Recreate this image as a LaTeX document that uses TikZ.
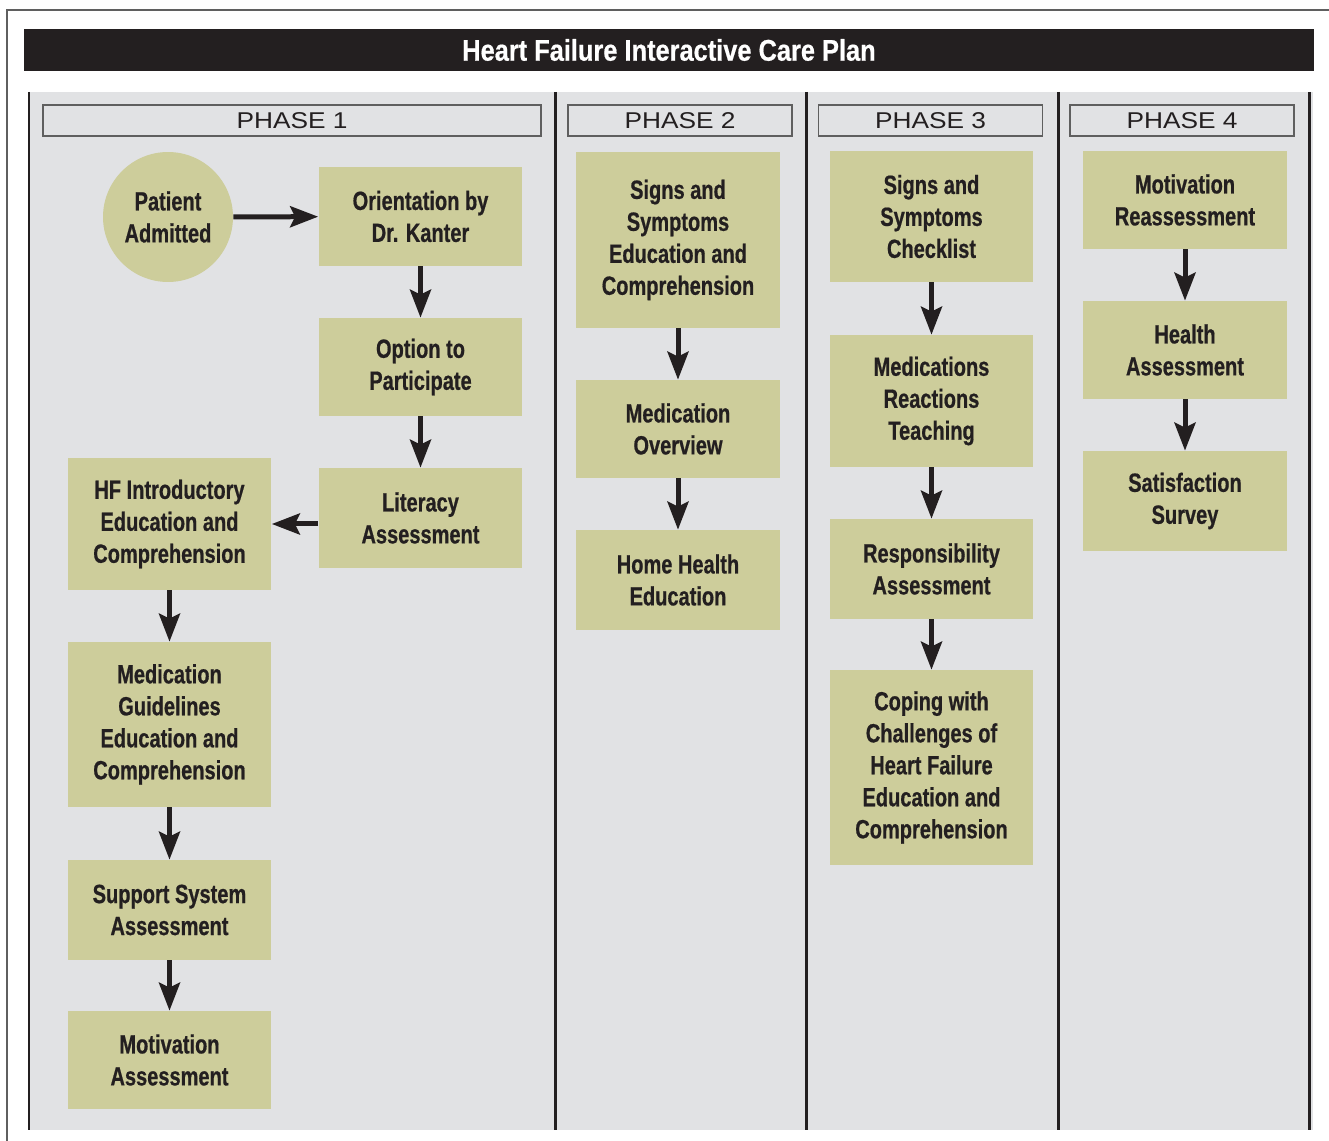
\documentclass[tikz,border=0pt]{standalone}
\usepackage{fontspec}
\setmainfont{Liberation Sans}
\newfontfamily\condfont[FakeStretch=0.76, BoldFeatures={FakeBold=0.6}]{Liberation Sans}
\newfontfamily\titlefont[FakeStretch=0.85, BoldFeatures={FakeBold=0.6}]{Liberation Sans}
\newfontfamily\widefont[FakeStretch=1.15]{Liberation Sans}
\usetikzlibrary{arrows.meta,positioning,calc}

\definecolor{ink}{RGB}{35,31,32}
\definecolor{panel}{RGB}{225,226,228}
\definecolor{boxfill}{RGB}{205,205,155}
\definecolor{rule}{RGB}{95,95,95}

\begin{document}
\begin{tikzpicture}[
    x=0.02cm, y=-0.02cm,
    stepbox/.style={rectangle, fill=boxfill, text=ink, align=center, inner sep=0pt, minimum width=4.08cm, font=\condfont\bfseries\fontsize{15}{18.2}\selectfont},
    startnode/.style={circle, fill=boxfill, text=ink, align=center, inner sep=0pt, minimum size=2.6cm, font=\condfont\bfseries\fontsize{15}{18.2}\selectfont},
    phasehead/.style={rectangle, draw=rule, fill=panel, line width=0.03cm, text=ink, inner sep=0pt, minimum height=0.62cm, font=\widefont\fontsize{13}{13}\selectfont},
    arr/.style={-{Stealth[length=0.56cm, width=0.42cm, inset=0.1cm]}, line width=0.1cm, draw=ink},
    divider/.style={draw=ink, line width=0.06cm}
]
    \useasboundingbox (0,0) rectangle (1329,1141);

    % Frame and title
    \draw[rule, line width=0.04cm] (1329,10) -- (7,10) -- (7,1141);
    \node[fill=ink, text=white, minimum width=25.8cm, minimum height=0.84cm, inner sep=0pt, font=\titlefont\bfseries\fontsize{17}{17}\selectfont] (title) at (669,50) {Heart Failure Interactive Care Plan};

    % Phase columns
    \fill[panel] (28,92) rectangle (1313,1130);
    \foreach \xx in {29,555,806,1058,1309}
        \draw[divider] (\xx,92) -- (\xx,1130);

    \node[phasehead, minimum width=9.96cm] (ph1) at (292,120.5) {PHASE 1};
    \node[phasehead, minimum width=4.48cm] (ph2) at (680,120.5) {PHASE 2};
    \node[phasehead, minimum width=4.48cm] (ph3) at (930.5,120.5) {PHASE 3};
    \node[phasehead, minimum width=4.48cm] (ph4) at (1182,120.5) {PHASE 4};

    % Phase 1
    \node[startnode] (admit) at (168,217) {Patient\\Admitted};
    \node[stepbox, minimum height=1.98cm] (orient) at (420.5,216.5) {Orientation by\\Dr. Kanter};
    \node[stepbox, minimum height=1.96cm] (option) at (420.5,367) {Option to\\Participate};
    \node[stepbox, minimum height=2.0cm] (literacy) at (420.5,518) {Literacy\\Assessment};
    \node[stepbox, minimum height=2.64cm] (hfintro) at (169.5,524) {HF Introductory\\Education and\\Comprehension};
    \node[stepbox, minimum height=3.3cm] (medguide) at (169.5,724.5) {Medication\\Guidelines\\Education and\\Comprehension};
    \node[stepbox, minimum height=2.0cm] (support) at (169.5,910) {Support System\\Assessment};
    \node[stepbox, minimum height=1.96cm] (motiv) at (169.5,1060) {Motivation\\Assessment};

    % Phase 2
    \node[stepbox, minimum height=3.52cm] (signs) at (678,240) {Signs and\\Symptoms\\Education and\\Comprehension};
    \node[stepbox, minimum height=1.96cm] (medover) at (678,429) {Medication\\Overview};
    \node[stepbox, minimum height=2.0cm] (homeed) at (678,580) {Home Health\\Education};

    % Phase 3
    \node[stepbox, minimum height=2.62cm] (checklist) at (931.5,216.5) {Signs and\\Symptoms\\Checklist};
    \node[stepbox, minimum height=2.64cm] (reactions) at (931.5,401) {Medications\\Reactions\\Teaching};
    \node[stepbox, minimum height=2.0cm] (respons) at (931.5,569) {Responsibility\\Assessment};
    \node[stepbox, minimum height=3.9cm] (coping) at (931.5,767.5) {Coping with\\Challenges of\\Heart Failure\\Education and\\Comprehension};

    % Phase 4
    \node[stepbox, minimum height=1.96cm] (reassess) at (1185,200) {Motivation\\Reassessment};
    \node[stepbox, minimum height=1.96cm] (health) at (1185,350) {Health\\Assessment};
    \node[stepbox, minimum height=2.0cm] (survey) at (1185,501) {Satisfaction\\Survey};

    % Arrows
    \draw[arr] (admit) -- (orient);
    \draw[arr] (orient) -- (option);
    \draw[arr] (option) -- (literacy);
    \draw[arr] (hfintro.east -| literacy.west) -- (hfintro.east);
    \draw[arr] (hfintro) -- (medguide);
    \draw[arr] (medguide) -- (support);
    \draw[arr] (support) -- (motiv);

    \draw[arr] (signs) -- (medover);
    \draw[arr] (medover) -- (homeed);

    \draw[arr] (checklist) -- (reactions);
    \draw[arr] (reactions) -- (respons);
    \draw[arr] (respons) -- (coping);

    \draw[arr] (reassess) -- (health);
    \draw[arr] (health) -- (survey);
\end{tikzpicture}
\end{document}
